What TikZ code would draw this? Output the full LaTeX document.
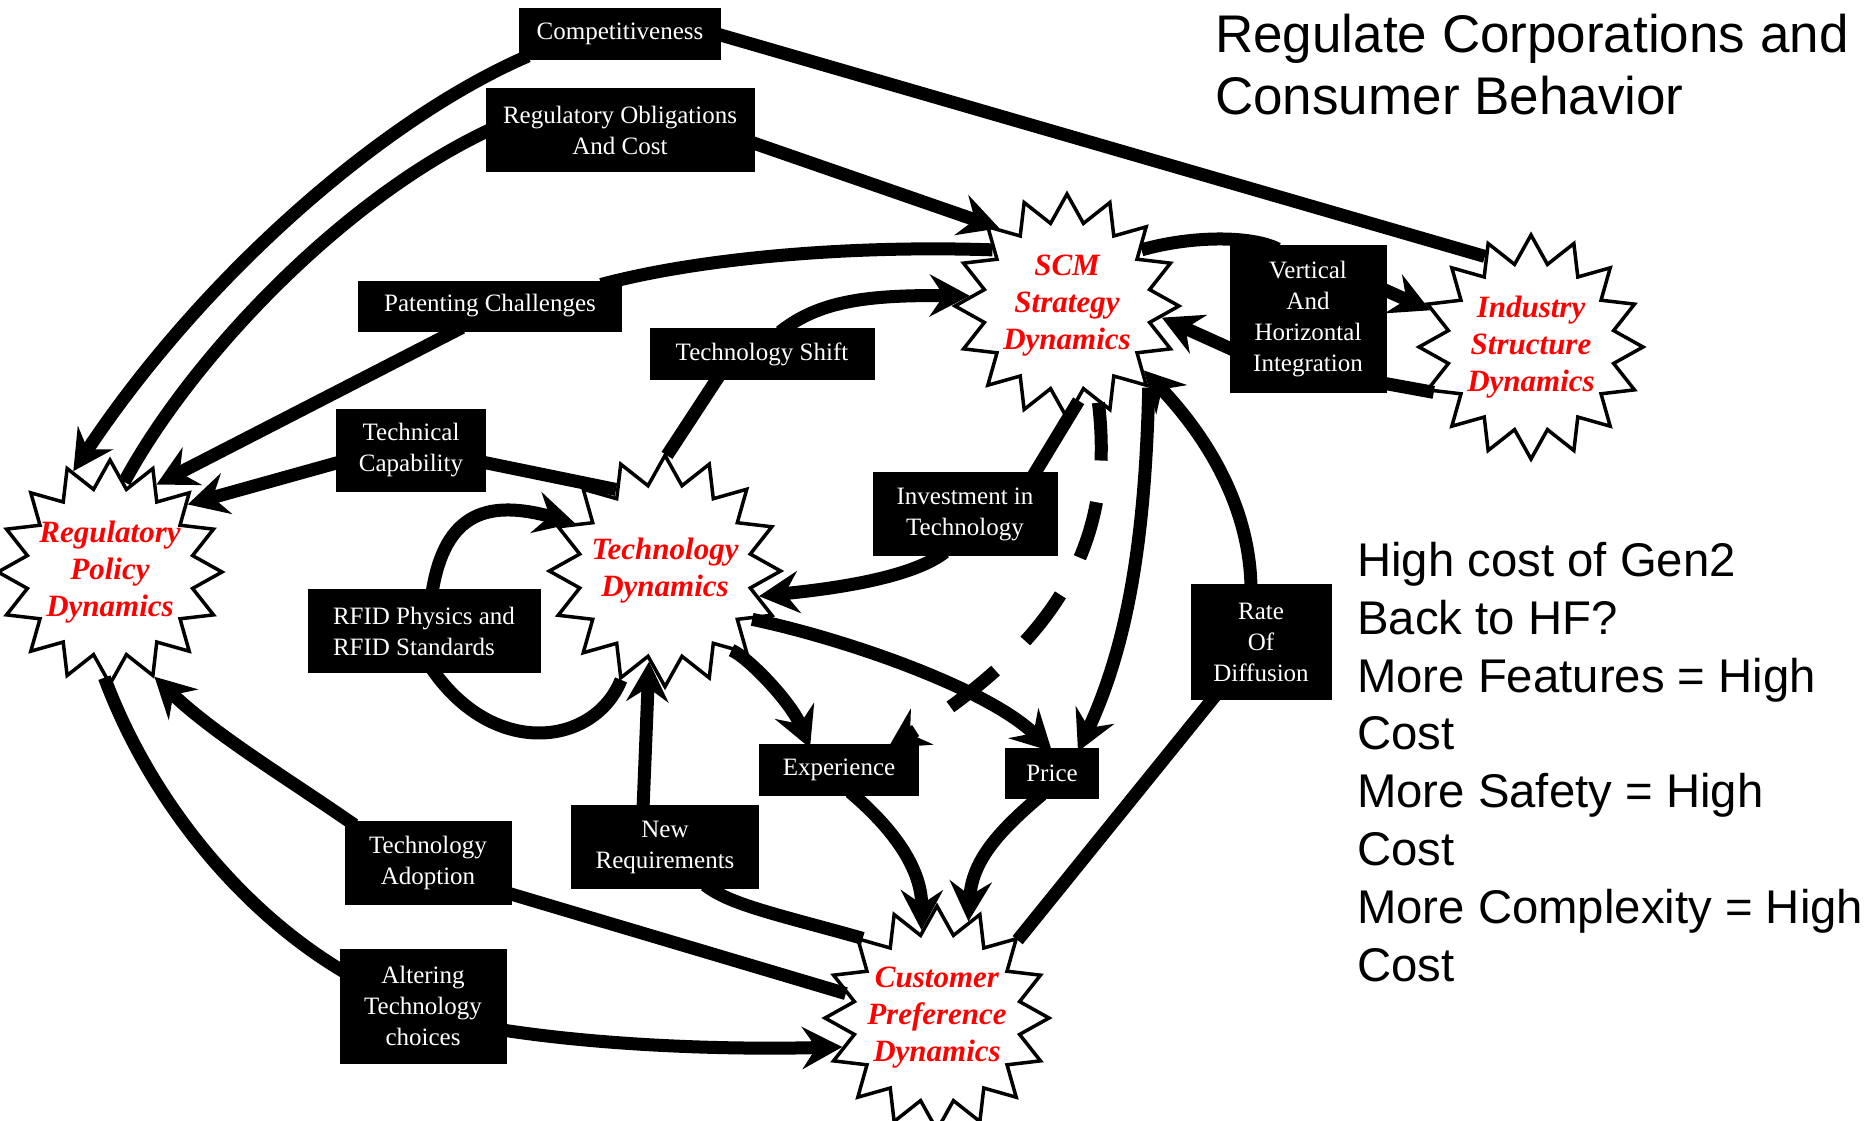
\documentclass[tikz,border=0pt]{standalone}
\usepackage{fontspec}
\setmainfont{Liberation Serif}
\newfontfamily\notefont{Liberation Sans}
\usetikzlibrary{shapes.geometric,arrows.meta}

\tikzset{
  burst/.style={star, star points=16, star point ratio=1.33, draw, line width=3.5pt,
    fill=white, minimum size=224pt, inner sep=-12pt, align=center, text=red,
    font=\bfseries\itshape\fontsize{31}{37}\selectfont},
  factor/.style={fill=black, text=white, align=center, inner sep=0pt, outer sep=-4pt,
    font=\fontsize{25}{31}\selectfont},
  link/.style={line width=13pt},
  arr/.style={link, -{Stealth[length=40pt,width=42pt,inset=14pt]}},
}

\begin{document}
\begin{tikzpicture}[x=1pt,y=-1pt]
  \useasboundingbox (0,0) rectangle (1867,1120);

  \node[burst] (reg)  at (110,572)  {Regulatory\\Policy\\Dynamics};
  \node[burst] (tech) at (665,571)  {Technology\\Dynamics};
  \node[burst] (scm)  at (1067,306) {SCM\\Strategy\\Dynamics};
  \node[burst] (ind)  at (1531,347) {Industry\\Structure\\Dynamics};
  \node[burst] (cust) at (937,1018) {Customer\\Preference\\Dynamics};

  \node[factor, minimum width=202, minimum height=52]  (compet)    at (620,34)   {Competitiveness};
  \node[factor, minimum width=269, minimum height=84]  (oblig)     at (620,130)  {Regulatory Obligations\\And Cost};
  \node[factor, minimum width=264, minimum height=51]  (patent)    at (490,306)  {Patenting Challenges};
  \node[factor, minimum width=225, minimum height=52]  (shift)     at (762,354)  {Technology Shift};
  \node[factor, minimum width=150, minimum height=83]  (techcap)   at (411,450)  {Technical\\Capability};
  \node[factor, minimum width=233, minimum height=84, align=left] (rfid) at (424,631) {RFID Physics and\\RFID Standards};
  \node[factor, minimum width=185, minimum height=84]  (invest)    at (965,514)  {Investment in\\Technology};
  \node[factor, minimum width=157, minimum height=148] (vhint)     at (1308,319) {Vertical\\And\\Horizontal\\Integration};
  \node[factor, minimum width=141, minimum height=116] (diffusion) at (1261,642) {Rate\\Of\\Diffusion};
  \node[factor, minimum width=160, minimum height=52]  (exper)     at (839,770)  {Experience};
  \node[factor, minimum width=94,  minimum height=51]  (price)     at (1052,773) {Price};
  \node[factor, minimum width=188, minimum height=84]  (newreq)    at (665,847)  {New\\Requirements};
  \node[factor, minimum width=167, minimum height=84]  (adopt)     at (428,863)  {Technology\\Adoption};
  \node[factor, minimum width=167, minimum height=115] (alter)     at (423,1006) {Altering\\Technology\\choices};

  \node[anchor=north west, inner sep=0pt, align=left, font=\notefont\fontsize{53}{62}\selectfont] (title) at (1215,14)
    {Regulate Corporations and\\Consumer Behavior};
  \node[anchor=north west, inner sep=0pt, align=left, font=\notefont\fontsize{47.3}{57.8}\selectfont] (notes) at (1357,542)
    {High cost of Gen2\\Back to HF?\\More Features = High\\Cost\\More Safety = High\\Cost\\More Complexity = High\\Cost};

  \draw[link] (ind.117) -- (compet.east);
  \draw[arr] ([xshift=5]compet.south west) .. controls (380,120) and (200,280) .. (reg.110);

  \draw[link] (reg.81) .. controls (190,360) and (340,200) .. (oblig.west);
  \draw[arr] ([yshift=-12]oblig.east) -- (scm.131);

  \draw[link] (scm.143) .. controls (850,245) and (700,258) .. ([xshift=-17]patent.north east);
  \draw[arr] ([xshift=100]patent.south west) -- (reg.62);

  \draw[link] (tech.121) -- ([yshift=-12]techcap.east);
  \draw[arr] ([yshift=-12]techcap.west) -- (reg.41);

  \draw[link] (tech.89) -- ([xshift=-43]shift.south);
  \draw[arr] ([xshift=18]shift.north) .. controls (820,300) and (870,295) .. (scm.174);

  \draw[link] (tech.248) .. controls (595,745) and (495,760) .. ([xshift=8]rfid.south);
  \draw[arr] ([xshift=8]rfid.north) .. controls (445,510) and (490,500) .. (tech.152);

  \draw[link] (scm.277) -- ([xshift=68]invest.north);
  \draw[arr] ([xshift=-20]invest.south) .. controls (910,580) and (820,590) .. (tech.345);

  \draw[arr, dash pattern=on 58pt off 42pt] (scm.288) .. controls (1115,540) and (1060,640) .. ([xshift=-27]exper.north east);
  \draw[arr] (scm.315) .. controls (1145,550) and (1125,650) .. ([xshift=-17]price.north east);

  \draw[link] (cust.44) -- ([xshift=-46]diffusion.south);
  \draw[arr] ([xshift=-10]diffusion.north) .. controls (1250,510) and (1210,440) .. (scm.320);

  \draw[link] (scm.37) .. controls (1190,236) and (1250,235) .. ([xshift=-30]vhint.north);
  \draw[arr] ([yshift=30]vhint.east) -- (ind.160);
  \draw[link] (ind.205) -- ([yshift=-64]vhint.east);
  \draw[arr] ([yshift=-31]vhint.west) -- (scm.353);

  \draw[arr] (tech.310) .. controls (745,655) and (790,700) .. ([xshift=-29]exper.north);
  \draw[arr] (tech.331) .. controls (850,640) and (990,690) .. (price.north);

  \draw[arr] ([xshift=11]exper.south) .. controls (895,830) and (922,870) .. (cust.100);
  \draw[arr] ([xshift=-10]price.south) .. controls (1000,830) and (972,860) .. (cust.72);

  \draw[link] (cust.133) .. controls (780,915) and (730,905) .. ([xshift=40]newreq.south);
  \draw[arr] ([xshift=-22]newreq.north) -- (tech.260);

  \draw[link] (cust.165) -- ([yshift=-30]adopt.east);
  \draw[arr] ([xshift=6]adopt.north west) .. controls (290,780) and (215,735) .. (reg.293);

  \draw[link] (reg.267) .. controls (150,800) and (240,910) .. ([yshift=-19]alter.north west);
  \draw[arr] ([yshift=-24]alter.east) .. controls (600,1045) and (720,1050) .. (cust.197);
\end{tikzpicture}
\end{document}
